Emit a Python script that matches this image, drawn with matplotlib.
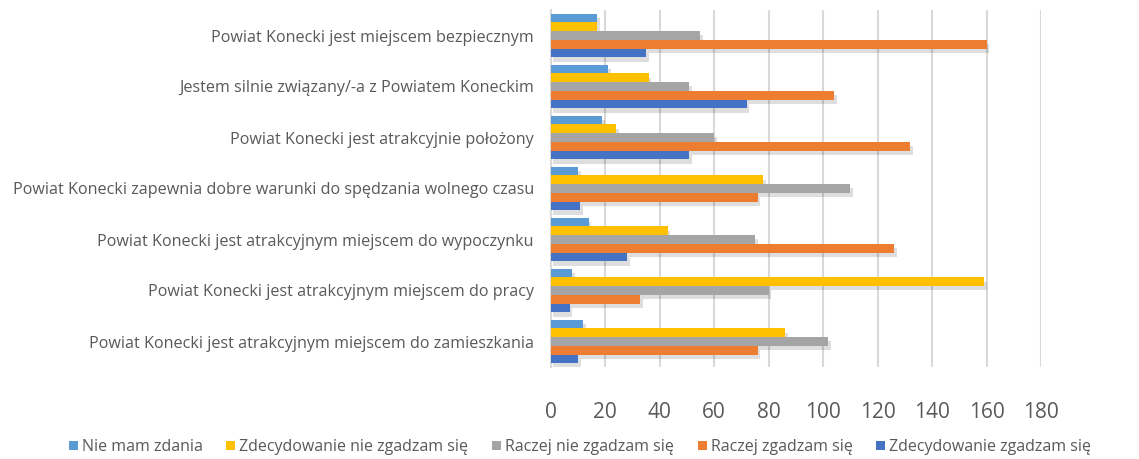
import matplotlib
matplotlib.use("Agg")
import matplotlib.pyplot as plt
import matplotlib.patheffects as pe
import numpy as np

categories = [
    "Powiat Konecki jest miejscem bezpiecznym",
    "Jestem silnie związany/-a z Powiatem Koneckim",
    "Powiat Konecki jest atrakcyjnie położony",
    "Powiat Konecki zapewnia dobre warunki do spędzania wolnego czasu",
    "Powiat Konecki jest atrakcyjnym miejscem do wypoczynku",
    "Powiat Konecki jest atrakcyjnym miejscem do pracy",
    "Powiat Konecki jest atrakcyjnym miejscem do zamieszkania",
]
series_names = [
    "Nie mam zdania",
    "Zdecydowanie nie zgadzam się",
    "Raczej nie zgadzam się",
    "Raczej zgadzam się",
    "Zdecydowanie zgadzam się",
]
nie_mam_zdania = [17, 21, 19, 10, 14, 8, 12]
zdecydowanie_nie = [17, 36, 24, 78, 43, 159, 86]
raczej_nie = [55, 51, 60, 110, 75, 80, 102]
raczej_tak = [160, 104, 132, 76, 126, 33, 76]
zdecydowanie_tak = [35, 72, 51, 11, 28, 7, 10]
xticks = [0, 20, 40, 60, 80, 100, 120, 140, 160, 180]

colors = ["#5B9BD5", "#FFC000", "#A5A5A5", "#ED7D31", "#4472C4"]
series = [nie_mam_zdania, zdecydowanie_nie, raczej_nie, raczej_tak, zdecydowanie_tak]

plt.rcParams['font.family'] = ['Open Sans', 'DejaVu Sans']
fig = plt.figure(figsize=(11.39, 4.59), dpi=100)
ax = fig.add_axes([550.5/1139, 1 - 367/459, (1041 - 550.5)/1139, (367 - 10)/459])

n = len(categories)
y = np.arange(n)
bh = 0.172
for i, (vals, col, name) in enumerate(zip(series, colors, series_names)):
    offs = (i - 2) * bh
    ax.barh(y + offs, vals, height=bh, color=col, label=name, zorder=3,
            path_effects=[pe.SimplePatchShadow(offset=(2, -3), shadow_rgbFace='#000000', alpha=0.13),
                          pe.Normal()])

ax.set_ylim(n - 0.5, -0.5)
ax.set_xlim(0, 180)
ax.set_xticks(xticks)
ax.set_xticklabels([str(t) for t in xticks], fontsize=15, color="#595959")
ax.set_yticks(y)
ax.set_yticklabels(categories, fontsize=11.6, color="#595959")
ax.tick_params(axis='both', length=0)
ax.tick_params(axis='x', pad=25)
ax.tick_params(axis='y', pad=12)
ax.grid(axis='x', color="#D9D9D9", linewidth=1.5, zorder=0)
for s in ['top', 'right', 'bottom']:
    ax.spines[s].set_visible(False)
ax.spines['left'].set_color("#D9D9D9")
ax.spines['left'].set_linewidth(1.5)

handles, labels = ax.get_legend_handles_labels()
leg = fig.legend(handles, labels, loc='center', bbox_to_anchor=(580/1139, 1 - 447/459), ncol=5,
                 frameon=False, fontsize=11.5, handlelength=0.55, handleheight=0.55,
                 handletextpad=0.25, columnspacing=1.5, labelcolor="#595959")
for h in leg.legend_handles:
    h.set_path_effects([])

fig.savefig("out.png", dpi=100)
